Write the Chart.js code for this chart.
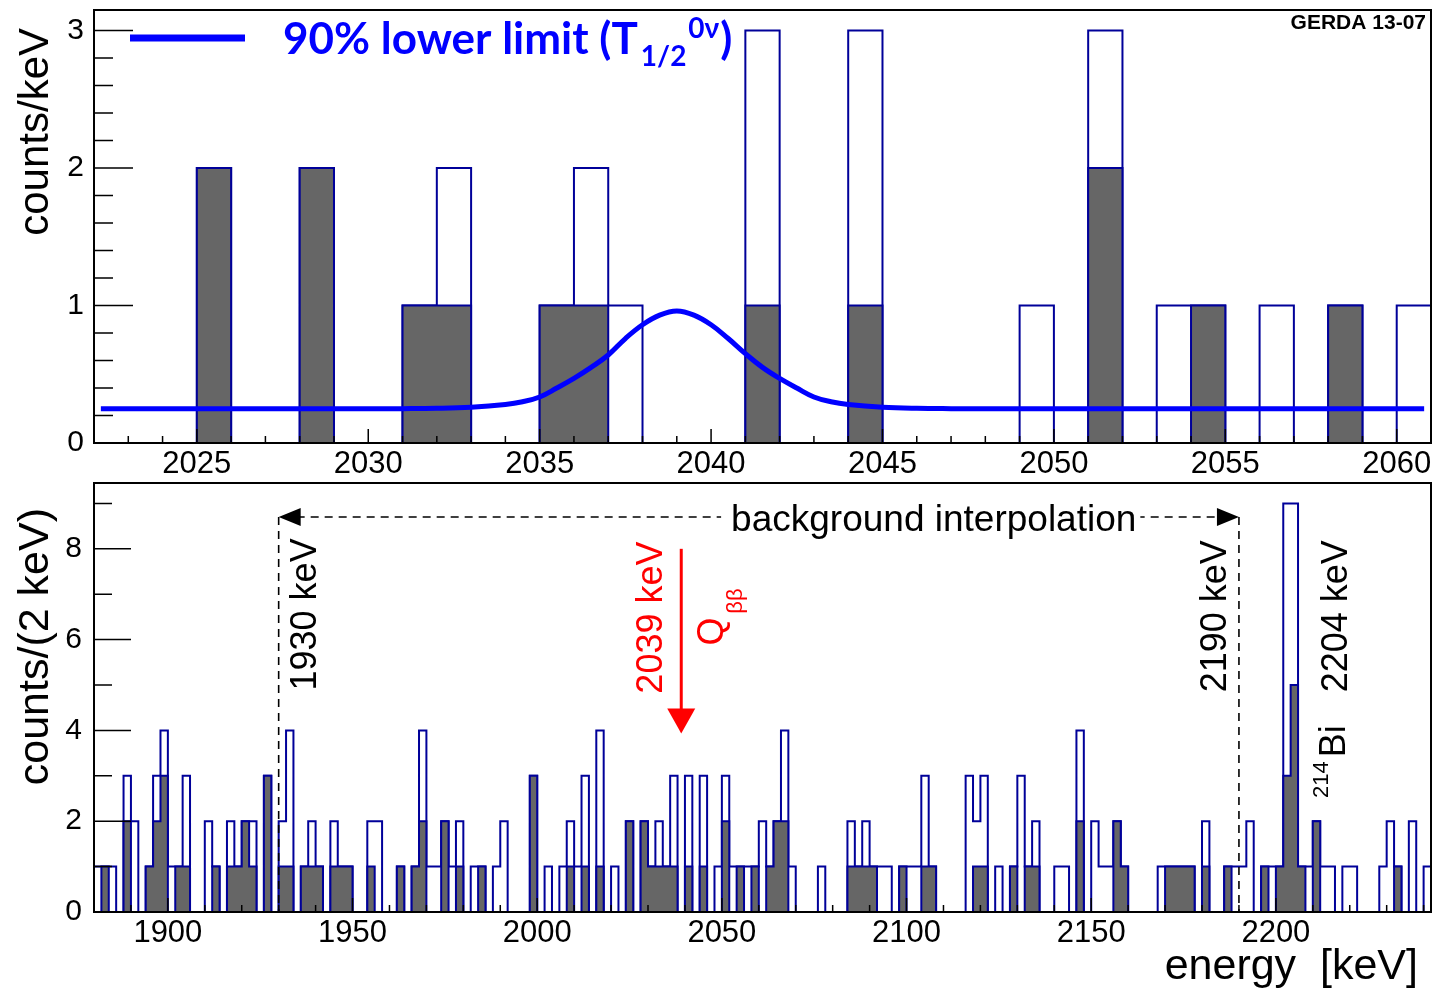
<!DOCTYPE html>
<html>
<head>
<meta charset="utf-8">
<script src="https://cdn.jsdelivr.net/npm/chart.js@4.4.1/dist/chart.umd.min.js"></script>
<style>
  html, body { margin: 0; padding: 0; background: #fff; }
  #wrap { position: relative; width: 1432px; height: 989px; overflow: hidden; }
  canvas { position: absolute; left: 0; }
  #top { top: 0; }
  #bottom { top: 476px; }
</style>
</head>
<body>
<div id="wrap">
  <canvas id="top" width="1432" height="476"></canvas>
  <canvas id="bottom" width="1432" height="513"></canvas>
</div>
<script>
// ---- top panel: 1 keV bins from 2022 keV ----
const topStart = 2022;
const topBinWidth = 1;
const topAll = [0,0,0,2,0,0,2,0,0,1, 2,0,0,1,2,1,0,0,0,3, 0,0,3,0,0,0,0,1,0,3, 0,1,1,0,1,0,1,0,1];
const topCut = [0,0,0,2,0,0,2,0,0,1, 1,0,0,1,1,0,0,0,0,1, 0,0,1,0,0,0,0,0,0,2, 0,0,1,0,0,0,1,0,0];
const topXTicks = [2025, 2030, 2035, 2040, 2045, 2050, 2055, 2060];
const topYTicks = [0, 1, 2, 3];

// 90% lower limit curve
const curveE = [2022.2, 2026, 2030, 2031, 2032, 2033, 2034, 2034.5, 2035, 2035.5, 2036, 2036.5, 2037, 2037.5, 2038, 2038.5,
                2039, 2039.5, 2040, 2040.5, 2041, 2041.5, 2042, 2042.5, 2043, 2043.5, 2044, 2045, 2046, 2047, 2048, 2052, 2056, 2060.8];
const curveY = [0.25, 0.25, 0.25, 0.25, 0.252, 0.26, 0.28, 0.30, 0.335, 0.40, 0.47, 0.55, 0.64, 0.76, 0.86, 0.93,
                0.96, 0.93, 0.86, 0.76, 0.65, 0.55, 0.47, 0.40, 0.335, 0.30, 0.28, 0.26, 0.252, 0.25, 0.25, 0.25, 0.25, 0.25];

// ---- bottom panel: 2 keV bins from 1880 keV ----
const botStart = 1880;
const botBinWidth = 2;
const botAll = [
  1,1,1,0,3,2,0,1,3,4,  1,1,3,0,0,2,1,0,2,1,  2,2,0,3,0,2,4,0,1,2,
  1,0,2,1,1,0,0,2,2,0,  0,1,0,1,4,1,1,2,1,2,  0,1,1,0,1,2,0,0,0,3,
  0,1,0,1,2,1,3,0,4,0,  1,0,2,0,2,1,2,1,3,0,  3,0,3,0,1,3,1,1,1,1,
  2,1,2,4,1,0,0,0,1,0,  0,0,2,1,2,1,1,1,0,1,  1,1,3,1,0,0,0,0,3,2,
  3,0,1,0,1,3,1,2,0,0,  1,1,0,4,0,2,1,1,2,1,  0,0,0,0,1,1,1,1,1,0,
  2,0,0,1,1,1,2,0,1,1,  1,9,9,1,1,2,1,1,0,1,  1,0,0,0,1,2,1,0,2,0,
  1
];
const botCut = [
  0,1,0,0,2,0,0,1,2,3,  0,1,1,0,0,0,1,0,1,1,  2,1,0,3,0,1,1,0,1,1,
  1,0,1,1,1,0,0,1,0,0,  0,1,0,1,2,0,0,2,0,1,  0,0,1,0,0,0,0,0,0,3,
  0,0,0,0,1,0,1,0,1,0,  0,0,2,0,2,1,1,1,1,0,  1,0,1,0,0,2,0,1,0,1,
  0,1,2,2,0,0,0,0,0,0,  0,0,1,1,1,1,0,0,0,1,  0,0,1,1,0,0,0,0,0,1,
  1,0,0,0,1,0,1,1,0,0,  0,0,0,2,0,0,0,0,2,1,  0,0,0,0,0,1,1,1,1,0,
  1,0,0,1,0,0,0,0,1,0,  1,3,5,1,0,2,0,0,0,0,  0,0,0,0,0,0,1,0,0,0,
  0
];
const botXTicks = [1900, 1950, 2000, 2050, 2100, 2150, 2200];
const botYTicks = [0, 2, 4, 6, 8];

const interpFrom = 1930, interpTo = 2190;
const qbb = 2039;
const bi214 = 2204;

const HIST_LINE = '#000099';
const HIST_FILL = '#666666';
const CURVE_COLOR = '#0000ff';
const FONT = '"Liberation Sans", Arial, Helvetica, sans-serif';

function histPoints(start, width, values) {
  const pts = values.map((v, i) => ({ x: start + i * width, y: v }));
  pts.push({ x: start + values.length * width, y: values[values.length - 1] });
  return pts;
}

function range(from, to, step) {
  const out = [];
  for (let v = from; v <= to + 1e-9; v += step) out.push(Math.round(v * 1000) / 1000);
  return out;
}

// rotated text reading bottom-to-top; (xb, ys) = baseline x, start y
function vtext(ctx, text, xb, ys, font, color, align) {
  ctx.save();
  ctx.translate(xb, ys);
  ctx.rotate(-Math.PI / 2);
  ctx.font = font;
  ctx.fillStyle = color;
  ctx.textAlign = align || 'left';
  ctx.textBaseline = 'alphabetic';
  ctx.fillText(text, 0, 0);
  ctx.restore();
}

// frame + ROOT style ticks drawn inside the frame
const frameTicks = {
  id: 'frameTicks',
  afterDatasetsDraw(chart, args, o) {
    const { ctx, chartArea: a, scales: { x, y } } = chart;
    ctx.save();
    ctx.strokeStyle = '#000';
    ctx.lineWidth = 1.5;
    ctx.beginPath();
    o.xMinor.forEach(v => { const p = x.getPixelForValue(v); ctx.moveTo(p, a.bottom); ctx.lineTo(p, a.bottom - o.xMinorLen); });
    o.xMajor.forEach(v => { const p = x.getPixelForValue(v); ctx.moveTo(p, a.bottom); ctx.lineTo(p, a.bottom - o.xMajorLen); });
    o.yMinor.forEach(v => { const p = y.getPixelForValue(v); ctx.moveTo(a.left, p); ctx.lineTo(a.left + o.yMinorLen, p); });
    o.yMajor.forEach(v => { const p = y.getPixelForValue(v); ctx.moveTo(a.left, p); ctx.lineTo(a.left + o.yMajorLen, p); });
    ctx.stroke();
    ctx.lineWidth = 2;
    ctx.strokeRect(a.left, a.top, a.right - a.left, a.bottom - a.top);
    ctx.restore();
  }
};

function scaleOpts(min, max, ticks, size, isX, pad, fontSize) {
  return {
    type: 'linear', min, max,
    afterBuildTicks: s => { s.ticks = ticks.map(v => ({ value: v })); },
    afterFit: s => {
      if (isX) s.height = size; else s.width = size;
      s.paddingTop = 0; s.paddingBottom = 0; s.paddingLeft = 0; s.paddingRight = 0;
    },
    grid: { display: false, drawTicks: false },
    border: { display: false },
    ticks: {
      color: '#000', padding: pad, autoSkip: false, maxRotation: 0,
      font: { family: FONT, size: fontSize },
      callback: v => String(v)
    }
  };
}

function histSet(points, filled, order) {
  return {
    data: points, stepped: 'before', borderColor: HIST_LINE, borderWidth: 2,
    fill: filled ? 'origin' : false, backgroundColor: filled ? HIST_FILL : 'rgba(0,0,0,0)',
    pointRadius: 0, order
  };
}

// ---------------- top chart ----------------
const topAnno = {
  id: 'topAnno',
  afterDraw(chart) {
    const { ctx, chartArea: a } = chart;
    ctx.save();
    // legend
    ctx.strokeStyle = CURVE_COLOR;
    ctx.lineWidth = 7;
    ctx.beginPath();
    ctx.moveTo(a.left + 36, 38);
    ctx.lineTo(a.left + 151, 38);
    ctx.stroke();
    ctx.fillStyle = CURVE_COLOR;
    ctx.textBaseline = 'alphabetic';
    ctx.textAlign = 'left';
    let tx = 283;
    const base = 54;
    ctx.font = 'bold 44px Lato, "Open Sans", sans-serif';
    ctx.fillText('90% lower limit (T', tx, base);
    tx += ctx.measureText('90% lower limit (T').width + 3;
    ctx.font = 'bold 28px Lato, "Open Sans", sans-serif';
    ctx.fillText('1/2', tx, base + 12);
    tx += ctx.measureText('1/2').width + 2;
    ctx.fillText('0\u03bd', tx, base - 16);
    tx += ctx.measureText('0\u03bd').width + 1;
    ctx.font = 'bold 44px Lato, "Open Sans", sans-serif';
    ctx.fillText(')', tx, base);
    // label
    ctx.fillStyle = '#000';
    ctx.font = 'bold 21px ' + FONT;
    ctx.textAlign = 'right';
    ctx.fillText('GERDA 13-07', a.right - 5, a.top + 19);
    ctx.restore();
    vtext(ctx, 'counts/keV', 48, 28, '42px ' + FONT, '#000', 'right');
  }
};

new Chart(document.getElementById('top'), {
  type: 'line',
  data: {
    datasets: [
      { data: curveE.map((e, i) => ({ x: e, y: curveY[i] })), borderColor: CURVE_COLOR, borderWidth: 5,
        tension: 0.4, fill: false, pointRadius: 0, order: 0 },
      histSet(histPoints(topStart, topBinWidth, topCut), true, 1),
      histSet(histPoints(topStart, topBinWidth, topAll), false, 2)
    ]
  },
  options: {
    responsive: false, animation: false, devicePixelRatio: 1,
    layout: { padding: { left: 0, right: 1, top: 10, bottom: 0 } },
    plugins: {
      legend: { display: false }, tooltip: { enabled: false },
      frameTicks: {
        xMajor: topXTicks, xMinor: range(2023, 2061, 1), xMajorLen: 14, xMinorLen: 7,
        yMajor: topYTicks, yMinor: range(0.2, 3.1, 0.2), yMajorLen: 39, yMinorLen: 19
      }
    },
    scales: {
      x: scaleOpts(2022, 2061, topXTicks, 33, true, 3, 31),
      y: scaleOpts(0, 3.15, topYTicks, 94, false, 10, 30)
    }
  },
  plugins: [frameTicks, topAnno]
});

// ---------------- bottom chart ----------------
const botAnno = {
  id: 'botAnno',
  afterDraw(chart) {
    const { ctx, scales: { x, y } } = chart;
    const xf = x.getPixelForValue(interpFrom), xt = x.getPixelForValue(interpTo);
    const yi = y.getPixelForValue(8.7), y0 = y.getPixelForValue(0);
    ctx.save();
    // background interpolation window
    ctx.strokeStyle = '#000';
    ctx.lineWidth = 1.6;
    ctx.setLineDash([8, 6]);
    ctx.beginPath();
    ctx.moveTo(xf, yi); ctx.lineTo(xf, y0);
    ctx.moveTo(xt, yi); ctx.lineTo(xt, y0);
    ctx.moveTo(xf + 18, yi); ctx.lineTo(xt - 18, yi);
    ctx.stroke();
    ctx.setLineDash([]);
    ctx.fillStyle = '#000';
    ctx.beginPath();
    ctx.moveTo(xf, yi); ctx.lineTo(xf + 22, yi - 9); ctx.lineTo(xf + 22, yi + 9); ctx.closePath();
    ctx.moveTo(xt, yi); ctx.lineTo(xt - 22, yi - 9); ctx.lineTo(xt - 22, yi + 9); ctx.closePath();
    ctx.fill();
    ctx.font = '37px ' + FONT;
    const label = 'background interpolation';
    const lx = x.getPixelForValue(2052.5);
    const lw = ctx.measureText(label).width;
    ctx.fillStyle = '#fff';
    ctx.fillRect(lx - 10, yi - 20, lw + 14, 40);
    ctx.fillStyle = '#000';
    ctx.textBaseline = 'alphabetic';
    ctx.fillText(label, lx, y.getPixelForValue(8.4));
    // Q_bb arrow
    const xq = x.getPixelForValue(qbb);
    const ya = y.getPixelForValue(8.0), yTip = y.getPixelForValue(3.93);
    ctx.strokeStyle = '#ff0000';
    ctx.fillStyle = '#ff0000';
    ctx.lineWidth = 3;
    ctx.beginPath();
    ctx.moveTo(xq, ya); ctx.lineTo(xq, yTip - 20);
    ctx.stroke();
    ctx.beginPath();
    ctx.moveTo(xq, yTip); ctx.lineTo(xq - 14, yTip - 25); ctx.lineTo(xq + 14, yTip - 25); ctx.closePath();
    ctx.fill();
    ctx.restore();

    const big = '36px ' + FONT, small = '22px ' + FONT;
    vtext(ctx, '1930 keV', x.getPixelForValue(1940.2), y.getPixelForValue(4.88), big, '#000');
    vtext(ctx, '2190 keV', x.getPixelForValue(2186.4), y.getPixelForValue(4.84), big, '#000');
    vtext(ctx, '2039 keV', x.getPixelForValue(2033.8), y.getPixelForValue(4.81), big, '#ff0000');
    vtext(ctx, 'Q', x.getPixelForValue(2050.3), y.getPixelForValue(5.87), big, '#ff0000');
    vtext(ctx, '\u03b2\u03b2', x.getPixelForValue(2055.4), y.getPixelForValue(6.57), small, '#ff0000');
    vtext(ctx, '2204 keV', x.getPixelForValue(bi214 + 15.2), y.getPixelForValue(4.84), big, '#000');
    vtext(ctx, 'Bi', x.getPixelForValue(bi214 + 14.7), y.getPixelForValue(3.41), big, '#000');
    vtext(ctx, '214', x.getPixelForValue(bi214 + 10.1), y.getPixelForValue(2.51), small, '#000');

    // axis titles
    vtext(ctx, 'counts/(2 keV)', 48, 32, '43px ' + FONT, '#000', 'right');
    ctx.save();
    ctx.font = '43px ' + FONT;
    ctx.fillStyle = '#000';
    ctx.textAlign = 'right';
    ctx.textBaseline = 'alphabetic';
    ctx.fillText('energy  [keV]', 1418, 503);
    ctx.restore();
  }
};

new Chart(document.getElementById('bottom'), {
  type: 'line',
  data: {
    datasets: [
      histSet(histPoints(botStart, botBinWidth, botCut), true, 1),
      histSet(histPoints(botStart, botBinWidth, botAll), false, 2)
    ]
  },
  options: {
    responsive: false, animation: false, devicePixelRatio: 1,
    layout: { padding: { left: 0, right: 1, top: 7, bottom: 0 } },
    plugins: {
      legend: { display: false }, tooltip: { enabled: false },
      frameTicks: {
        xMajor: botXTicks, xMinor: range(1890, 2240, 10), xMajorLen: 14, xMinorLen: 7,
        yMajor: botYTicks, yMinor: range(1, 9, 1), yMajorLen: 37, yMinorLen: 18
      }
    },
    scales: {
      x: scaleOpts(1880, 2242, botXTicks, 77, true, 3, 31),
      y: scaleOpts(0, 9.45, botYTicks, 94, false, 12, 30)
    }
  },
  plugins: [frameTicks, botAnno]
});
</script>
</body>
</html>
